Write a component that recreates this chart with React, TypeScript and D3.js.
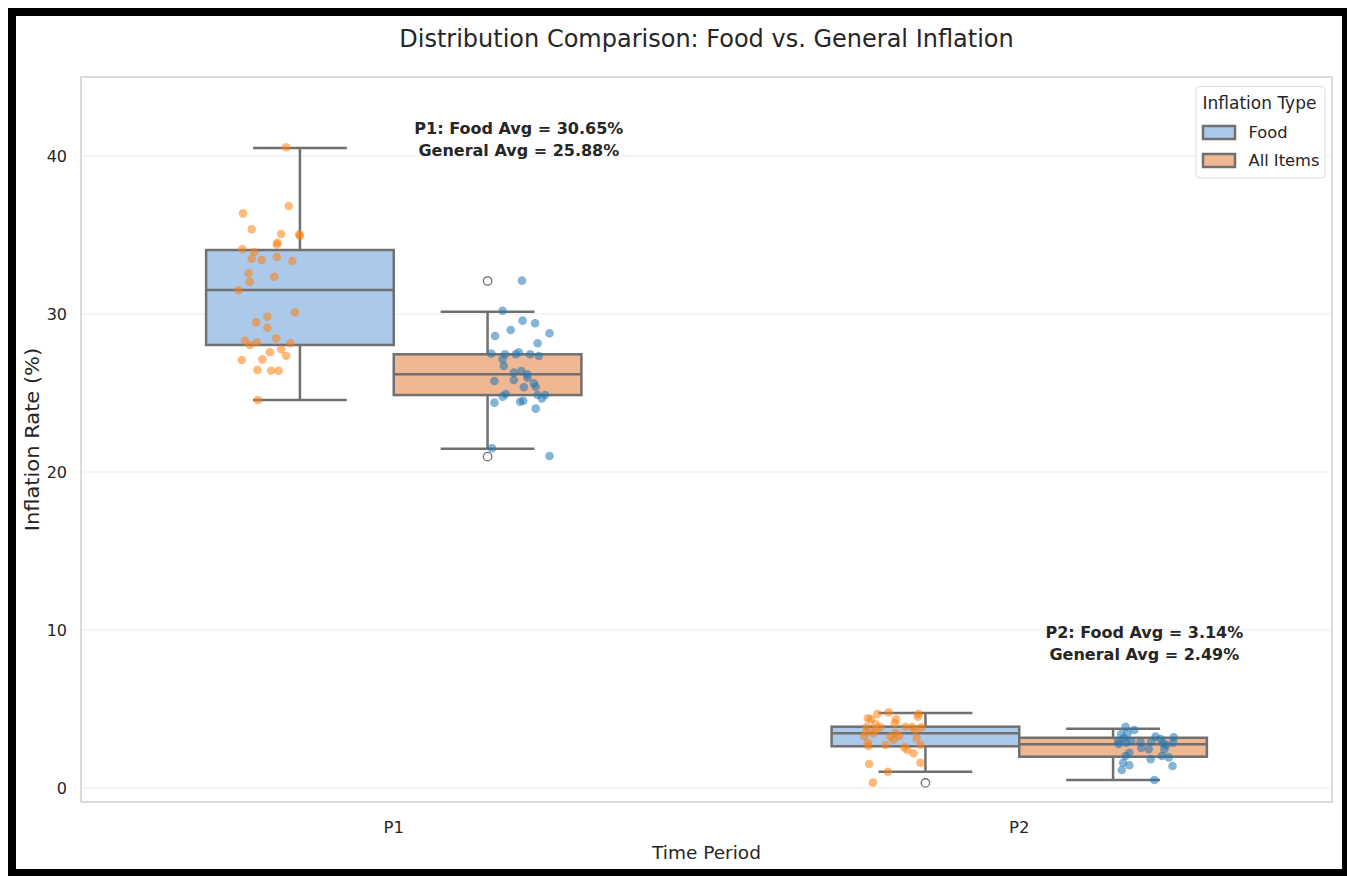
import React from "react";
import * as d3 from "d3";

const periods = ["P1", "P2"];
const types = ["Food", "All Items"];
const yTicks = [0, 10, 20, 30, 40];

// box statistics: [low whisker, q1, median, q3, high whisker]
const boxP1Food = [24.56, 28.04, 31.52, 34.05, 40.5];
const boxP1All = [21.47, 24.87, 26.18, 27.45, 30.15];
const boxP2Food = [1.03, 2.64, 3.46, 3.88, 4.75];
const boxP2All = [0.51, 1.98, 2.77, 3.18, 3.75];
const outP1Food: number[] = [];
const outP1All = [32.09, 20.97];
const outP2Food = [0.32];
const outP2All: number[] = [];

// strip points: values and jitter (category units)
const p1FoodVals = [40.55, 36.84, 36.37, 35.36, 35.06, 35.04, 34.95, 34.51, 34.4, 34.11, 33.92, 33.5, 33.42, 33.61, 33.35, 32.58, 32.04, 32.36, 31.5, 29.83, 30.11, 29.47, 29.13, 28.46, 28.31, 28.04, 28.21, 28.15, 27.77, 27.58, 27.36, 27.09, 27.13, 26.46, 26.41, 26.41, 24.56];
const p1FoodJit = [0.028, 0.032, -0.041, -0.027, 0.02, 0.049, 0.05, 0.014, 0.013, -0.042, -0.023, -0.027, -0.011, 0.013, 0.038, -0.032, -0.03, 0.009, -0.048, -0.002, 0.042, -0.02, -0.002, 0.012, -0.038, -0.03, -0.019, 0.035, 0.02, 0.002, 0.028, -0.043, -0.01, -0.018, 0.004, 0.016, -0.017];
const p1AllVals = [32.11, 30.21, 29.58, 29.41, 28.99, 28.78, 28.61, 28.15, 27.49, 27.45, 27.45, 27.58, 27.45, 27.34, 27.13, 26.71, 26.29, 26.39, 26.18, 25.97, 25.76, 25.82, 25.61, 25.4, 25.36, 24.94, 24.77, 24.87, 24.87, 24.66, 24.39, 24.45, 24.51, 24.01, 21.5, 21.01];
const p1AllJit = [0.005, -0.026, 0.006, 0.026, -0.013, 0.049, -0.038, 0.03, -0.044, -0.022, -0.005, 0.0, 0.018, 0.032, -0.026, -0.024, -0.008, 0.004, 0.013, 0.014, -0.039, -0.008, 0.024, 0.027, 0.008, -0.021, -0.026, 0.03, 0.042, 0.037, -0.039, 0.002, 0.007, 0.027, -0.043, 0.049];
const p2FoodVals = [4.68, 4.79, 4.68, 4.51, 4.41, 4.35, 4.35, 4.09, 3.88, 3.88, 4.03, 3.67, 3.56, 3.84, 3.67, 3.46, 3.25, 3.29, 3.04, 3.15, 2.87, 2.72, 2.66, 2.72, 2.58, 2.41, 2.2, 1.52, 1.6, 1.03, 0.34, 3.86, 3.48, 3.86, 3.29];
const p2FoodJit = [-0.027, -0.009, 0.039, 0.038, -0.042, -0.037, 0.003, 0.001, 0.018, -0.044, -0.03, -0.03, -0.044, 0.044, 0.034, -0.033, -0.006, 0.008, -0.001, 0.036, -0.042, -0.014, -0.041, 0.042, 0.016, 0.021, 0.031, -0.04, 0.042, -0.01, -0.034, -0.022, 0.002, 0.029, -0.048];
const p2AllVals = [3.88, 3.67, 3.46, 3.42, 3.15, 3.25, 3.21, 2.89, 2.93, 2.83, 2.87, 2.78, 2.87, 2.45, 2.45, 2.23, 2.03, 2.03, 1.94, 1.82, 1.6, 1.44, 1.39, 1.14, 0.51, 2.97, 3.1, 2.53, 2.97, 2.72];
const p2AllJit = [-0.03, -0.016, -0.027, -0.037, -0.033, 0.018, 0.047, -0.006, 0.011, 0.03, 0.046, -0.041, -0.029, 0.007, 0.032, -0.024, -0.03, 0.028, 0.039, 0.01, -0.034, -0.024, 0.045, -0.036, 0.016, -0.021, 0.026, -0.005, -0.042, 0.035];

const annotations = [
  ["P1: Food Avg = 30.65%", "General Avg = 25.88%"],
  ["P2: Food Avg = 3.14%", "General Avg = 2.49%"],
];
const annotationY = [40.0, 8.1];

const W = 1347;
const H = 876;
const M = { left: 81, right: 1332, top: 77, bottom: 802 };
const FONT = "DejaVu Sans, sans-serif";

const boxFill = ["#abc9ea", "#efb792"];
const pointColor = ["#ff7f0e", "#1f77b4"];
const lineColor = "#707070";

function T(props: any) {
  const { x, y, size, anchor = "start", weight = "normal", rotate = false, sx = 1, children, fill = "#262626" } = props;
  const tr = rotate
    ? `translate(${x},${y}) rotate(-90) scale(1,${sx})`
    : `translate(${x},${y}) scale(${sx},1)`;
  return (
    <text transform={tr} fontSize={size} fontFamily={FONT} fontWeight={weight} textAnchor={anchor} fill={fill}>
      {children}
    </text>
  );
}

export default function App() {
  const x = d3.scaleLinear().domain([-0.5, periods.length - 0.5]).range([M.left, M.right]);
  const y = d3.scaleLinear().domain([-0.886, 45.0]).range([M.bottom, M.top]);
  const pxPerUnit = x(1) - x(0);

  const boxes = [
    { p: 0, h: 0, s: boxP1Food, out: outP1Food, vals: p1FoodVals, jit: p1FoodJit },
    { p: 0, h: 1, s: boxP1All, out: outP1All, vals: p1AllVals, jit: p1AllJit },
    { p: 1, h: 0, s: boxP2Food, out: outP2Food, vals: p2FoodVals, jit: p2FoodJit },
    { p: 1, h: 1, s: boxP2All, out: outP2All, vals: p2AllVals, jit: p2AllJit },
  ];
  const boxW = 0.3;
  const boxOff = [-0.15, 0.15];
  const stripOff = [-0.2, 0.2];

  return (
    <svg width={W} height={H} style={{ position: "fixed", left: 0, top: 0, background: "#fff" }}>
      <rect x={0} y={0} width={W} height={H} fill="#fff" />
      {/* grid */}
      {yTicks.map((t) => (
        <line key={t} x1={M.left} x2={M.right} y1={y(t)} y2={y(t)} stroke="#ebebeb" strokeWidth={1.2} />
      ))}
      {/* boxes */}
      {boxes.map((b, i) => {
        const cx = x(b.p + boxOff[b.h]);
        const half = (boxW / 2) * pxPerUnit;
        const [lo, q1, med, q3, hi] = b.s;
        return (
          <g key={i}>
            <line x1={cx} x2={cx} y1={y(q3)} y2={y(hi)} stroke={lineColor} strokeWidth={2.5} />
            <line x1={cx} x2={cx} y1={y(q1)} y2={y(lo)} stroke={lineColor} strokeWidth={2.5} />
            <line x1={cx - half / 2} x2={cx + half / 2} y1={y(hi)} y2={y(hi)} stroke={lineColor} strokeWidth={2.5} />
            <line x1={cx - half / 2} x2={cx + half / 2} y1={y(lo)} y2={y(lo)} stroke={lineColor} strokeWidth={2.5} />
            <rect x={cx - half} y={y(q3)} width={2 * half} height={y(q1) - y(q3)} fill={boxFill[b.h]} stroke={lineColor} strokeWidth={2.5} />
            <line x1={cx - half} x2={cx + half} y1={y(med)} y2={y(med)} stroke={lineColor} strokeWidth={2.5} />
            {b.out.map((o, j) => (
              <circle key={j} cx={cx} cy={y(o)} r={4.2} fill="none" stroke={lineColor} strokeWidth={1.3} />
            ))}
          </g>
        );
      })}
      {/* strip points */}
      {boxes.map((b, i) => (
        <g key={"s" + i}>
          {b.vals.map((v, j) => (
            <circle key={j} cx={x(b.p + stripOff[b.h] + b.jit[j])} cy={y(v)} r={4.3} fill={pointColor[b.h]} fillOpacity={0.55} />
          ))}
        </g>
      ))}
      {/* spines */}
      <rect x={M.left} y={M.top} width={M.right - M.left} height={M.bottom - M.top} fill="none" stroke="#d0d0d0" strokeWidth={1.5} />
      {/* y ticks */}
      {yTicks.map((t) => (
        <T key={t} x={67} y={y(t) + 6} size={16} anchor="end">{t}</T>
      ))}
      {/* x ticks */}
      {periods.map((p, i) => (
        <T key={p} x={x(i)} y={833} size={16.5} anchor="middle">{p}</T>
      ))}
      <T x={(M.left + M.right) / 2} y={859} size={18.5} anchor="middle">Time Period</T>
      <T x={39} y={(M.top + M.bottom) / 2} size={21} sx={0.92} anchor="middle" rotate>Inflation Rate (%)</T>
      <T x={(M.left + M.right) / 2} y={47} size={24} anchor="middle">Distribution Comparison: Food vs. General Inflation</T>
      {/* annotations */}
      {annotations.map((lines, i) => (
        <g key={"a" + i}>
          <T x={x(i + 0.2)} y={y(annotationY[i]) - 22} size={16} anchor="middle" weight="bold">{lines[0]}</T>
          <T x={x(i + 0.2)} y={y(annotationY[i])} size={16} anchor="middle" weight="bold">{lines[1]}</T>
        </g>
      ))}
      {/* legend */}
      <rect x={1196} y={86.5} width={129} height={91.5} rx={4} fill="#fff" fillOpacity={0.8} stroke="#dcdcdc" strokeWidth={1} />
      <T x={1202.5} y={109} size={17}>Inflation Type</T>
      {types.map((t, i) => (
        <g key={t}>
          <rect x={1203} y={126 + i * 28} width={32} height={13} fill={boxFill[i]} stroke={lineColor} strokeWidth={2.5} />
          <T x={1248.5} y={137.5 + i * 28.5} size={16.3}>{t}</T>
        </g>
      ))}
      {/* black frame */}
      <rect x={8} y={8} width={8} height={868} fill="#000" />
      <rect x={8} y={8} width={1339} height={8} fill="#000" />
      <rect x={1342} y={8} width={5} height={868} fill="#000" />
      <rect x={8} y={869} width={1339} height={7} fill="#000" />
    </svg>
  );
}
